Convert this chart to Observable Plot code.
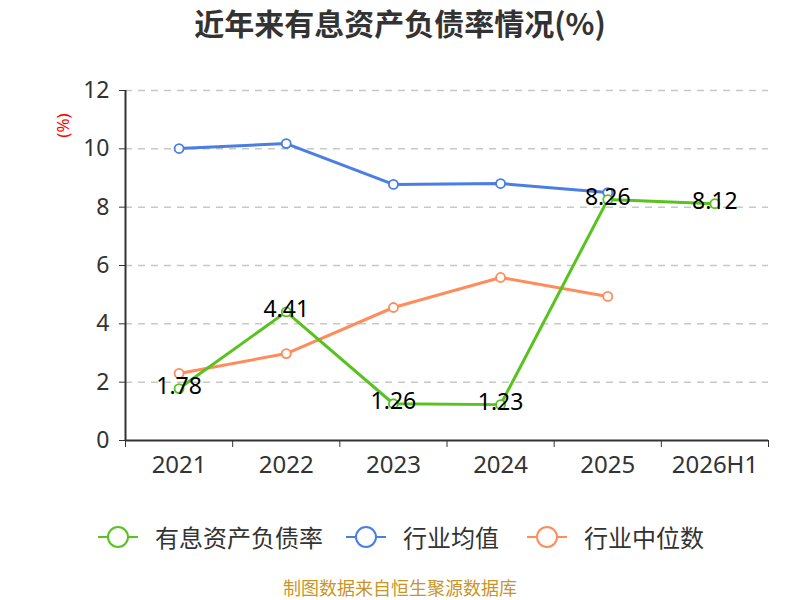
<!DOCTYPE html>
<html><head><meta charset="utf-8">
<script src="https://cdn.jsdelivr.net/npm/d3@7"></script>
<script src="https://cdn.jsdelivr.net/npm/@observablehq/plot@0.6"></script>
<style>
body{margin:0;background:#fff;font-family:"Noto Sans CJK SC","Noto Sans",sans-serif;}
#wrap{position:relative;width:800px;height:600px;overflow:hidden;}
#title{position:absolute;top:2px;left:0;width:800px;text-align:center;font-size:30px;font-weight:bold;color:#333;line-height:40px;}
#chart{position:absolute;top:0;left:0;}
#legend{position:absolute;top:520px;left:0;width:800px;height:34px;}
.li{position:absolute;top:0;display:flex;align-items:center;font-size:24px;color:#333;line-height:34px;}
#footer{position:absolute;top:577px;left:0;width:800px;text-align:center;font-size:18px;color:#c9952a;line-height:20px;}
</style></head>
<body><div id="wrap">
<div id="title">近年来有息资产负债率情况(%)</div>
<div id="chart"></div>
<div id="legend"></div>
<div id="footer">制图数据来自恒生聚源数据库</div>
</div>
<script>
const categories = ["2021","2022","2023","2024","2025","2026H1"];
const debtRatio = [1.78, 4.41, 1.26, 1.23, 8.26, 8.12];
const industryMean = [10.01, 10.18, 8.78, 8.81, 8.50];
const industryMedian = [2.30, 2.98, 4.56, 5.59, 4.94];
const yTicks = [0, 2, 4, 6, 8, 10, 12];
const seriesNames = ["有息资产负债率", "行业均值", "行业中位数"];
const colors = ["#58c21e", "#4a7ee3", "#ff8c5a"];

const toRows = (vals) => vals.map((v, i) => ({i, v}));
const green = toRows(debtRatio), blue = toRows(industryMean), orange = toRows(industryMedian);
const boundaries = d3.range(categories.length + 1).map(d => d - 0.5);

const font = '"Noto Sans","Noto Sans CJK SC",sans-serif';
const plot = Plot.plot({
  width: 800, height: 480,
  marginTop: 90, marginBottom: 40, marginLeft: 125, marginRight: 32,
  style: {fontFamily: font, background: "transparent"},
  x: {type: "linear", domain: [-0.5, categories.length - 0.5]},
  y: {domain: [0, 12]},
  marks: [
    Plot.ruleY(yTicks.filter(d => d > 0), {stroke: "#c8c8c8", strokeWidth: 1.5, strokeDasharray: "7,6"}),
    Plot.axisY({ticks: yTicks, tickSize: 6, tickPadding: 10, fontSize: 23, color: "#333", stroke: "#333", label: null, tickFormat: d => d}),
    Plot.axisX({ticks: boundaries, tickSize: 7, tickFormat: () => "", stroke: "#333", label: null}),
    Plot.axisX({ticks: d3.range(categories.length), tickSize: 0, tickPadding: 15, tickFormat: i => categories[i], fontSize: 24, color: "#333", label: null}),
    Plot.ruleX([-0.5], {stroke: "#333", strokeWidth: 2}),
    Plot.ruleY([0], {stroke: "#333", strokeWidth: 2}),
    Plot.line(blue, {x: "i", y: "v", stroke: colors[1], strokeWidth: 3}),
    Plot.line(orange, {x: "i", y: "v", stroke: colors[2], strokeWidth: 3}),
    Plot.line(green, {x: "i", y: "v", stroke: colors[0], strokeWidth: 3}),
    Plot.dot(blue, {x: "i", y: "v", r: 4.5, fill: "#fff", stroke: colors[1], strokeWidth: 1.8}),
    Plot.dot(orange, {x: "i", y: "v", r: 4.5, fill: "#fff", stroke: colors[2], strokeWidth: 1.8}),
    Plot.dot(green, {x: "i", y: "v", r: 4.5, fill: "#fff", stroke: colors[0], strokeWidth: 1.8}),
    Plot.text(green, {x: "i", y: "v", text: d => d.v.toFixed(2), fontSize: 23, fill: "#000", dy: -2}),
    Plot.text(["(%)"], {frameAnchor: "top-left", dx: -69, dy: 35, rotate: -90, fill: "red", fontSize: 17, text: d => d, textAnchor: "middle"})
  ]
});
document.getElementById("chart").appendChild(plot);

const legend = document.getElementById("legend");
const lefts = [97, 345, 526];
seriesNames.forEach((name, k) => {
  const el = document.createElement("div");
  el.className = "li";
  el.style.left = lefts[k] + "px";
  el.innerHTML = `<svg width="42" height="34"><line x1="1" y1="17" x2="41" y2="17" stroke="${colors[k]}" stroke-width="2"/><circle cx="21" cy="17" r="10" fill="#fff" stroke="${colors[k]}" stroke-width="2"/></svg><span style="margin-left:16px">${name}</span>`;
  legend.appendChild(el);
});
</script>
</body></html>
